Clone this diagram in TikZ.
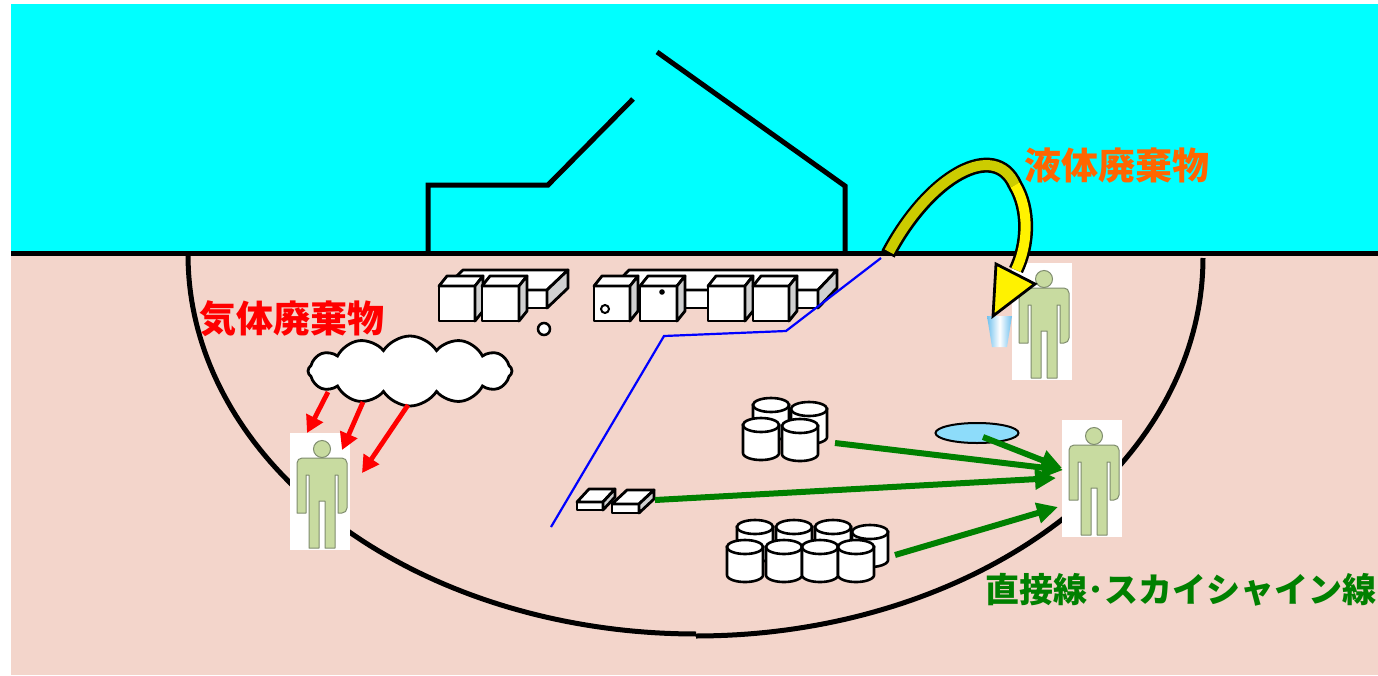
\documentclass[tikz,border=0pt]{standalone}
\usepackage{fontspec}
\newfontfamily\jpfont{Noto Sans CJK JP}
\usetikzlibrary{arrows.meta,shapes.symbols,shapes.geometric}
\definecolor{sky}{HTML}{00FFFF}
\definecolor{soil}{HTML}{F3D5CB}
\definecolor{sidegray}{HTML}{D0D0D0}
\definecolor{bodygreen}{HTML}{C8DBA0}
\definecolor{bodyline}{HTML}{7F8C6E}
\definecolor{pondblue}{HTML}{8DDCFA}
\definecolor{liquid}{HTML}{FF6600}
\definecolor{darkyellow}{HTML}{CCCC00}
\definecolor{radgreen}{HTML}{008000}
\definecolor{glassblue}{HTML}{6EC0EE}

% front face at (x,y) with width w, height h, receding by (dx,dy)
\newcommand\prismbox[6]{%
  \filldraw[boxline, fill=white] (#1,#2) rectangle ++(#3,#4);
  \filldraw[boxline, fill=white] (#1,#2) -- ++(#5,-#6) -- ++(#3,0) -- ++(-#5,#6) -- cycle;
  \filldraw[boxline, fill=sidegray] (#1+#3,#2) -- ++(#5,-#6) -- ++(0,#4) -- ++(-#5,#6) -- cycle;
}

\tikzset{
  wall/.style={line width=5pt, line join=miter},
  boxline/.style={line width=2.8pt, line join=round},
  gasarrow/.style={draw=red, line width=4.8pt, -{Triangle[length=17pt,width=18pt]}},
  radarrow/.style={draw=radgreen, line width=6pt, -{Triangle[length=21pt,width=20pt]}},
  jplabel/.style={font=\jpfont\bfseries\fontsize{37}{37}\selectfont, inner sep=0pt},
  person/.pic={
    \fill[white] (0,0) rectangle (60,117);
    \filldraw[fill=bodygreen, draw=bodyline, line width=1pt] (32,16) circle[radius=8.5];
    \filldraw[fill=bodygreen, draw=bodyline, line width=1pt, line join=round]
      (7,80) {[rounded corners=5pt] -- (7,25) -- (57,25) -- (57,80)}
      -- (48,80) -- (48,42) -- (45,42) -- (45,115) -- (35,115) -- (35,68)
      -- (29,68) -- (29,115) -- (19,115) -- (19,42) -- (16,42) -- (16,80) -- cycle;
  },
  drum/.pic={
    \filldraw[fill=white, line width=2.6pt] (-18,0) -- (-18,28)
      -- plot[domain=180:0, samples=30] ({18*cos(\x)},{28+7*sin(\x)}) -- (18,0) -- cycle;
    \filldraw[fill=white, line width=2.6pt] (0,0) ellipse[x radius=18, y radius=7];
  }
}

\begin{document}
\begin{tikzpicture}[x=1pt, y=-1pt]
\useasboundingbox (0,0) rectangle (1378,675);
\fill[white] (0,0) rectangle (1378,675);
\fill[sky] (11,4) rectangle (1378,253);
\fill[soil] (11,253) rectangle (1378,675);

% facility building outline
\draw[wall] (428,253) -- (428,185) -- (548,185) -- (633,99);
\draw[wall] (657,52) -- (845,186) -- (845,253);
% ground surface
\draw[line width=5pt] (11,253) -- (1378,253);
% site boundary below ground
\draw[line width=5pt] plot[domain=180:90, samples=80] ({696+508*cos(\x)},{255+379*sin(\x)});
\draw[line width=5pt] plot[domain=90:0, samples=80] ({696+507*cos(\x)},{258+378*sin(\x)});

% waste storage rows
\prismbox{442}{290}{105}{18}{21}{20}
\prismbox{439}{286}{36}{35}{8}{10}
\prismbox{482}{286}{37}{35}{8}{10}
\filldraw[fill=white, line width=2.5pt] (544,329) circle[radius=6];

\prismbox{610}{290}{208}{18}{19}{20}
\prismbox{594}{286}{36}{35}{8}{10}
\prismbox{640}{286}{37}{35}{8}{10}
\prismbox{708}{286}{37}{35}{8}{10}
\prismbox{753}{286}{36}{35}{8}{10}
\draw[line width=2pt] (605,309) circle[radius=4];
\fill (662,292) circle[radius=2.8];

% drainage line
\draw[blue, line width=2.2pt] (551,527) -- (664,336) -- (786,331) -- (881,258);

% plates
\prismbox{577}{502}{26}{8}{12}{13}
\prismbox{612}{504}{27}{9}{15}{14}

% drums
\pic at (771,405) {drum};
\pic at (809,409) {drum};
\pic at (761,425) {drum};
\pic at (800,426) {drum};

\pic at (755,527) {drum};
\pic at (794,527) {drum};
\pic at (833,527) {drum};
\pic at (870,532) {drum};
\pic at (745,547) {drum};
\pic at (784,547) {drum};
\pic at (820,547) {drum};
\pic at (856,547) {drum};

% pond
\node[ellipse, draw, line width=2pt, fill=pondblue, minimum width=83pt, minimum height=20pt, inner sep=0pt] (pond) at (977,433) {};

% people
\pic at (290,433) {person};
\pic at (1012,263) {person};
\pic at (1062,420) {person};

% gaseous release
\node[cloud, draw, fill=white, line width=2.8pt, cloud puffs=12, cloud puff arc=115, aspect=2.8,
      minimum width=204pt, minimum height=70pt, inner sep=0pt] (cloud) at (410,371) {};
\coordinate (g1s) at (328,392); \coordinate (g1e) at (307,433);
\coordinate (g2s) at (363,402); \coordinate (g2e) at (342,450);
\coordinate (g3s) at (408,405); \coordinate (g3e) at (362,473);
\draw[gasarrow] (g1s) -- (g1e);
\draw[gasarrow] (g2s) -- (g2e);
\draw[gasarrow] (g3s) -- (g3e);

% direct and skyshine radiation
\coordinate (r1s) at (835,443); \coordinate (r1e) at (1063,470);
\coordinate (r2s) at (983,437); \coordinate (r2e) at (1062,468);
\coordinate (r3s) at (655,500); \coordinate (r3e) at (1056,478);
\coordinate (r4s) at (895,555); \coordinate (r4e) at (1058,507);
\draw[radarrow] (r1s) -- (r1e);
\draw[radarrow] (r2s) -- (r2e);
\draw[radarrow] (r3s) -- (r3e);
\draw[radarrow] (r4s) -- (r4e);

% drinking glass
\shade[left color=glassblue, right color=glassblue, middle color=white]
  (987,316) -- (1012,316) -- (1007,347) -- (992,347) -- cycle;

% liquid release arrow
\draw[line width=15pt] (888,254) .. controls (930,175) and (995,140) .. (1015,185)
  .. controls (1030,210) and (1028,245) .. (1016,270);
\draw[darkyellow, line width=10pt, shorten <=2.5pt] (888,254) .. controls (930,175) and (995,140) .. (1015,185);
\draw[yellow, line width=10pt] (1015,185) .. controls (1030,210) and (1028,245) .. (1016,270);
\filldraw[fill=yellow, line width=2.8pt, line join=miter] (996,264) -- (1035,284) -- (993,316) -- cycle;

% labels
\node[jplabel, text=liquid] (liq) at (1117,166) {液体廃棄物};
\node[jplabel, text=red] (gas) at (292,319) {気体廃棄物};
\node[jplabel, text=radgreen, font=\jpfont\bfseries\fontsize{34}{34}\selectfont] (rad) at (1181,590) {直接線･スカイシャイン線};
\end{tikzpicture}
\end{document}
